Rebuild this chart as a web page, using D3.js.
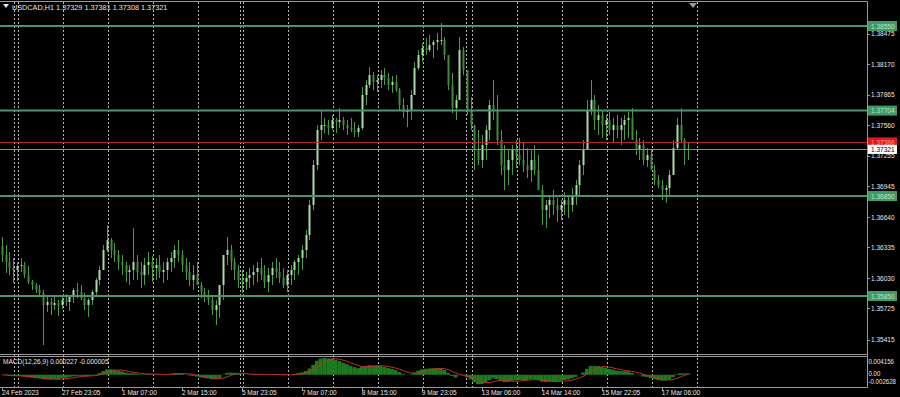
<!DOCTYPE html>
<html>
<head>
<meta charset="utf-8">
<script src="https://cdn.jsdelivr.net/npm/d3@7"></script>
<style>
  body { margin: 0; background: #000; overflow: hidden; }
  svg { display: block; }
  text { font-family: "Liberation Sans", Arial, sans-serif; font-size: 7.5px; fill: #e6e6e6; }
</style>
</head>
<body>
<svg id="chart" width="900" height="397"></svg>
<script>
// USDCAD 2-hour bars (high / low / close)
var highs = [
  1.3644,1.3636,1.3629,1.3623,1.3619,1.3623,1.3619,1.3615,1.3601,1.3598,
  1.3596,1.3591,1.3586,1.3583,1.3585,1.3581,1.3584,1.3587,1.3585,1.3593,
  1.3598,1.3596,1.3588,1.3583,1.3591,1.3603,1.3615,1.3636,1.3656,1.3643,
  1.3638,1.3631,1.3626,1.3619,1.3616,1.3653,1.3626,1.3619,1.3623,1.3629,
  1.3625,1.3623,1.3626,1.3619,1.3623,1.3629,1.3636,1.3641,1.3631,1.3623,
  1.3619,1.3616,1.3619,1.3599,1.3593,1.3591,1.3586,1.3581,1.3585,1.3611,
  1.3644,1.3636,1.3623,1.3616,1.3611,1.3609,1.3613,1.3616,1.3619,1.3623,
  1.3616,1.3613,1.3619,1.3623,1.3619,1.3613,1.3611,1.3616,1.3621,1.3626,
  1.3636,1.3651,1.3681,1.3721,1.3756,1.3771,1.3763,1.3761,1.3766,1.3763,
  1.3773,1.3764,1.3761,1.3763,1.3759,1.3756,1.3794,1.3801,1.3814,1.3809,
  1.3806,1.3811,1.3813,1.3808,1.3805,1.3806,1.3793,1.3783,1.3776,1.3791,
  1.3819,1.3831,1.3838,1.3843,1.3846,1.3841,1.3848,1.3858,1.3844,1.3826,
  1.3808,1.3786,1.3844,1.3834,1.3806,1.3784,1.3741,1.3751,1.3746,1.3756,
  1.3781,1.3801,1.3786,1.3751,1.3736,1.3731,1.3736,1.3741,1.3743,1.3739,
  1.3733,1.3731,1.3736,1.3726,1.3696,1.3681,1.3686,1.3691,1.3683,1.3681,
  1.3689,1.3686,1.3693,1.3701,1.3721,1.3741,1.3781,1.3801,1.3786,1.3776,
  1.3771,1.3766,1.3769,1.3763,1.3766,1.3763,1.3766,1.3769,1.3773,1.3751,
  1.3743,1.3741,1.3733,1.3731,1.3716,1.3706,1.3701,1.3696,1.3711,1.3741,
  1.3763,1.3773,1.3743,1.3738
];
var lows = [
  1.3619,1.3608,1.3606,1.3598,1.3600,1.3609,1.3603,1.3597,1.3591,1.3588,
  1.3585,1.3536,1.3569,1.3566,1.3571,1.3565,1.3572,1.3575,1.3570,1.3578,
  1.3583,1.3581,1.3571,1.3564,1.3576,1.3585,1.3596,1.3613,1.3629,1.3623,
  1.3619,1.3611,1.3606,1.3599,1.3596,1.3601,1.3601,1.3593,1.3596,1.3606,
  1.3599,1.3601,1.3603,1.3598,1.3601,1.3609,1.3613,1.3619,1.3609,1.3601,
  1.3595,1.3591,1.3596,1.3583,1.3579,1.3576,1.3566,1.3556,1.3563,1.3581,
  1.3616,1.3611,1.3601,1.3593,1.3588,1.3591,1.3593,1.3596,1.3599,1.3601,
  1.3593,1.3589,1.3596,1.3603,1.3598,1.3593,1.3589,1.3596,1.3601,1.3606,
  1.3611,1.3623,1.3641,1.3671,1.3711,1.3741,1.3748,1.3746,1.3751,1.3748,
  1.3753,1.3751,1.3746,1.3749,1.3744,1.3744,1.3751,1.3776,1.3793,1.3791,
  1.3789,1.3793,1.3796,1.3791,1.3788,1.3789,1.3771,1.3763,1.3754,1.3761,
  1.3786,1.3811,1.3819,1.3826,1.3829,1.3823,1.3831,1.3836,1.3821,1.3791,
  1.3768,1.3761,1.3781,1.3806,1.3766,1.3751,1.3711,1.3716,1.3713,1.3721,
  1.3741,1.3761,1.3736,1.3706,1.3691,1.3696,1.3706,1.3713,1.3716,1.3709,
  1.3703,1.3699,1.3706,1.3696,1.3656,1.3653,1.3663,1.3666,1.3659,1.3661,
  1.3666,1.3663,1.3669,1.3676,1.3686,1.3706,1.3736,1.3766,1.3751,1.3746,
  1.3743,1.3741,1.3746,1.3739,1.3743,1.3736,1.3741,1.3743,1.3746,1.3726,
  1.3721,1.3716,1.3714,1.3713,1.3696,1.3693,1.3681,1.3678,1.3686,1.3709,
  1.3731,1.3738,1.3716,1.3721
];
var closes = [
  1.3626,1.3619,1.3613,1.3611,1.3615,1.3616,1.3606,1.3599,1.3596,1.3591,
  1.3588,1.3576,1.3579,1.3576,1.3578,1.3576,1.3581,1.3579,1.3585,1.3591,
  1.3589,1.3583,1.3576,1.3581,1.3589,1.3601,1.3611,1.3631,1.3641,1.3631,
  1.3626,1.3619,1.3616,1.3609,1.3611,1.3619,1.3609,1.3606,1.3616,1.3619,
  1.3613,1.3616,1.3609,1.3611,1.3619,1.3623,1.3631,1.3626,1.3616,1.3609,
  1.3601,1.3606,1.3596,1.3589,1.3586,1.3581,1.3571,1.3576,1.3596,1.3626,
  1.3631,1.3619,1.3611,1.3601,1.3599,1.3603,1.3606,1.3609,1.3613,1.3606,
  1.3599,1.3606,1.3613,1.3609,1.3603,1.3596,1.3606,1.3611,1.3619,1.3623,
  1.3631,1.3646,1.3676,1.3716,1.3751,1.3756,1.3756,1.3753,1.3761,1.3759,
  1.3761,1.3756,1.3753,1.3751,1.3749,1.3753,1.3786,1.3796,1.3806,1.3799,
  1.3801,1.3806,1.3803,1.3796,1.3799,1.3791,1.3776,1.3769,1.3771,1.3786,
  1.3813,1.3826,1.3833,1.3831,1.3836,1.3839,1.3841,1.3841,1.3826,1.3796,
  1.3773,1.3781,1.3831,1.3811,1.3771,1.3756,1.3731,1.3721,1.3736,1.3751,
  1.3776,1.3771,1.3741,1.3716,1.3711,1.3721,1.3731,1.3726,1.3721,1.3716,
  1.3711,1.3721,1.3711,1.3691,1.3671,1.3676,1.3681,1.3676,1.3671,1.3676,
  1.3681,1.3676,1.3686,1.3696,1.3716,1.3731,1.3771,1.3781,1.3761,1.3766,
  1.3756,1.3761,1.3751,1.3756,1.3751,1.3756,1.3761,1.3763,1.3741,1.3731,
  1.3736,1.3721,1.3726,1.3711,1.3701,1.3696,1.3691,1.3693,1.3706,1.3733,
  1.3756,1.3741,1.3731,1.37321
];
var firstOpen = 1.3635;

var priceTicks = [1.38475, 1.38170, 1.37865, 1.37560, 1.37255, 1.36945, 1.36640, 1.36335, 1.36030, 1.35725, 1.35415];
var levels = [1.38550, 1.37704, 1.36850, 1.35850];
var askPrice = 1.37386;
var bidPrice = 1.37321;

// bar index of each time label, and its text
var timeBars = [0, 16, 32, 48, 64, 80, 96, 112, 128, 144, 160, 176];
var timeLabels = ["24 Feb 2023", "27 Feb 23:05", "1 Mar 07:00", "2 Mar 15:00", "5 Mar 23:05", "7 Mar 07:00",
                  "8 Mar 15:00", "9 Mar 23:05", "13 Mar 06:00", "14 Mar 14:00", "15 Mar 22:05", "17 Mar 06:00"];
// vertical grid separators (in bar units)
var gridBars = [3.2, 4.27, 16.27, 28.27, 40.27, 52.27, 63.47, 64.27, 76.27, 88.27, 100.27, 112.27,
                123.73, 125.33, 137.33, 149.33, 161.33, 173.33, 185.33];

var macdMin = -0.002628, macdMax = 0.004156;
var macdTickText = ["0.004156", "0.00", "-0.002628"];
// MACD(12,26,9) on H1 ~ periods 6,13 and signal 5 on these 2-hour bars
var fastP = 6, slowP = 13, sigP = 5;

var width = 900, height = 397;
var plotRight = 867;
var mainTop = 2, mainBottom = 354.5;
var macdTop = 357, macdBottom = 387;

var svg = d3.select("#chart");
svg.append("rect").attr("width", width).attr("height", height).attr("fill", "#000");

var x = d3.scaleLinear().domain([0, 183]).range([2, 688]);
var y = d3.scaleLinear().domain([1.3526, 1.3878]).range([355, 3]);
var ym = d3.scaleLinear().domain([macdMin, macdMax]).range([386, 357]);

// grid
svg.append("g").selectAll("line")
  .data(gridBars)
  .enter().append("line")
  .attr("x1", function (d) { return Math.round(x(d)) + 0.5; })
  .attr("x2", function (d) { return Math.round(x(d)) + 0.5; })
  .attr("y1", mainTop).attr("y2", macdBottom)
  .attr("stroke", "#b8b8b8")
  .attr("stroke-width", 1)
  .attr("stroke-dasharray", "2,2");

// candles
var bars = closes.map(function (c, i) {
  var o = i ? closes[i - 1] : firstOpen;
  return { i: i, o: o, c: c, h: Math.max(highs[i], o, c), l: Math.min(lows[i], o, c) };
});

var cg = svg.append("g");
cg.selectAll("line.wick")
  .data(bars)
  .enter().append("line")
  .attr("class", "wick")
  .attr("x1", function (d) { return Math.round(x(d.i)) + 0.5; })
  .attr("x2", function (d) { return Math.round(x(d.i)) + 0.5; })
  .attr("y1", function (d) { return y(d.h); })
  .attr("y2", function (d) { return y(d.l); })
  .attr("stroke", "#4a9a4a")
  .attr("stroke-width", 1);

cg.selectAll("rect.body")
  .data(bars)
  .enter().append("rect")
  .attr("class", "body")
  .attr("x", function (d) { return Math.round(x(d.i)) - 0.5; })
  .attr("width", 2)
  .attr("y", function (d) { return y(Math.max(d.o, d.c)); })
  .attr("height", function (d) { return Math.max(1, Math.abs(y(d.o) - y(d.c))); })
  .attr("fill", function (d) { return d.c >= d.o ? "#a9d9a9" : "#3f8a3f"; });

// support / resistance levels
svg.append("g").selectAll("line")
  .data(levels)
  .enter().append("line")
  .attr("x1", 0).attr("x2", plotRight)
  .attr("y1", function (d) { return y(d); })
  .attr("y2", function (d) { return y(d); })
  .attr("stroke", "#4c9470")
  .attr("stroke-width", 2);

// ask / bid lines
svg.append("line").attr("x1", 0).attr("x2", plotRight)
  .attr("y1", Math.round(y(askPrice)) + 0.5).attr("y2", Math.round(y(askPrice)) + 0.5)
  .attr("stroke", "#b02828").attr("stroke-width", 1);
svg.append("line").attr("x1", 0).attr("x2", plotRight)
  .attr("y1", Math.round(y(bidPrice)) + 0.5).attr("y2", Math.round(y(bidPrice)) + 0.5)
  .attr("stroke", "#8a8a8a").attr("stroke-width", 1);

// MACD
function ema(arr, n) {
  var k = 2 / (n + 1), prev = arr[0];
  return arr.map(function (v, i) { prev = i ? v * k + prev * (1 - k) : v; return prev; });
}
var emaF = ema(closes, fastP), emaS = ema(closes, slowP);
var macd = closes.map(function (c, i) { return emaF[i] - emaS[i]; });
var signal = macd.map(function (m, i) {
  return d3.mean(macd.slice(Math.max(0, i - sigP + 1), i + 1));
});

svg.append("g").selectAll("rect")
  .data(macd)
  .enter().append("rect")
  .attr("x", function (d, i) { return x(i) - 1.9; })
  .attr("width", 3.8)
  .attr("y", function (d) { return Math.min(ym(d), ym(0)); })
  .attr("height", function (d) { return Math.abs(ym(d) - ym(0)); })
  .attr("fill", "#1f7a1f");

svg.append("path")
  .datum(signal)
  .attr("fill", "none")
  .attr("stroke", "#c03030")
  .attr("stroke-width", 1)
  .attr("d", d3.line().x(function (d, i) { return x(i); }).y(function (d) { return ym(d); }));

// frames
var frame = svg.append("g").attr("stroke", "#9a9a9a").attr("stroke-width", 1).attr("fill", "none");
frame.append("line").attr("x1", 0).attr("x2", plotRight + 0.5).attr("y1", 1.5).attr("y2", 1.5);
frame.append("line").attr("x1", plotRight + 0.5).attr("x2", plotRight + 0.5).attr("y1", 1.5).attr("y2", macdBottom + 0.5);
frame.append("line").attr("x1", 0).attr("x2", plotRight + 0.5).attr("y1", mainBottom).attr("y2", mainBottom);
frame.append("line").attr("x1", 0).attr("x2", plotRight + 0.5).attr("y1", macdTop - 0.5).attr("y2", macdTop - 0.5);
frame.append("line").attr("x1", 0).attr("x2", plotRight + 0.5).attr("y1", macdBottom + 0.5).attr("y2", macdBottom + 0.5);

// price axis
var pa = svg.append("g");
pa.selectAll("line").data(priceTicks).enter().append("line")
  .attr("x1", plotRight + 0.5).attr("x2", plotRight + 3)
  .attr("y1", function (d) { return Math.round(y(d)) + 0.5; })
  .attr("y2", function (d) { return Math.round(y(d)) + 0.5; })
  .attr("stroke", "#9a9a9a");
pa.selectAll("text").data(priceTicks).enter().append("text")
  .attr("x", plotRight + 4).attr("y", function (d) { return y(d); })
  .attr("dy", "0.35em")
  .text(function (d) { return d.toFixed(5); });

// level labels on the axis
var lv = svg.append("g").selectAll("g").data(levels).enter().append("g")
  .attr("transform", function (d) { return "translate(" + (plotRight + 1) + "," + y(d) + ")"; });
lv.append("rect").attr("x", 0).attr("y", -5).attr("width", 29).attr("height", 10).attr("fill", "#3f9a66");
lv.append("text").attr("x", 3).attr("dy", "0.35em").style("fill", "#b9e6c8").text(function (d) { return d.toFixed(5); });

var ask = svg.append("g").attr("transform", "translate(" + (plotRight + 1) + "," + y(askPrice) + ")");
ask.append("rect").attr("y", -5).attr("width", 29).attr("height", 10).attr("fill", "#e01a1a");
ask.append("text").attr("x", 3).attr("dy", "0.35em").style("fill", "#ff9a9a").text(askPrice.toFixed(5));
var bid = svg.append("g").attr("transform", "translate(" + (plotRight + 1) + "," + y(bidPrice) + ")");
bid.append("rect").attr("y", -4).attr("width", 29).attr("height", 9).attr("fill", "#ffffff");
bid.append("text").attr("x", 3).attr("dy", "0.35em").style("fill", "#000").text(bidPrice.toFixed(5));

// MACD axis
svg.append("g").selectAll("text").data(macdTickText).enter().append("text")
  .attr("x", plotRight + 1.5)
  .attr("y", function (d, i) { return [361.5, 374, 381.5][i]; })
  .attr("dy", "0.35em")
  .style("font-size", "7px")
  .text(function (d) { return d; });

// time axis
var ta = svg.append("g");
ta.selectAll("line").data(timeBars).enter().append("line")
  .attr("x1", function (d) { return Math.round(x(d)) + 0.5; })
  .attr("x2", function (d) { return Math.round(x(d)) + 0.5; })
  .attr("y1", macdBottom + 1).attr("y2", macdBottom + 4)
  .attr("stroke", "#9a9a9a");
ta.selectAll("text").data(timeBars).enter().append("text")
  .attr("x", function (d) { return x(d); })
  .attr("y", 392.5).attr("dy", "0.35em")
  .text(function (d, i) { return timeLabels[i]; });

// titles
svg.append("path").attr("d", "M3,4 L9,4 L6,8 Z").attr("fill", "#e6e6e6");
svg.append("text").attr("class", "title").attr("x", 12).attr("y", 7).attr("dy", "0.35em")
  .text("USDCAD,H1  1.37329 1.37381 1.37308 1.37321");
svg.append("text").attr("x", 3).attr("y", 361.5).attr("dy", "0.35em")
  .text("MACD(12,26,9) 0.000227 -0.000005");
svg.append("path").attr("d", "M689,3 L697,3 L693,8 Z").attr("fill", "#9a9a9a");

// the terminal font is narrower than Liberation Sans: squeeze every label a little
svg.selectAll("text").each(function () {
  var w = this.getComputedTextLength();
  var k = d3.select(this).classed("title") ? 0.97 : 0.87;
  d3.select(this).attr("textLength", w * k).attr("lengthAdjust", "spacingAndGlyphs");
});
</script>
</body>
</html>
